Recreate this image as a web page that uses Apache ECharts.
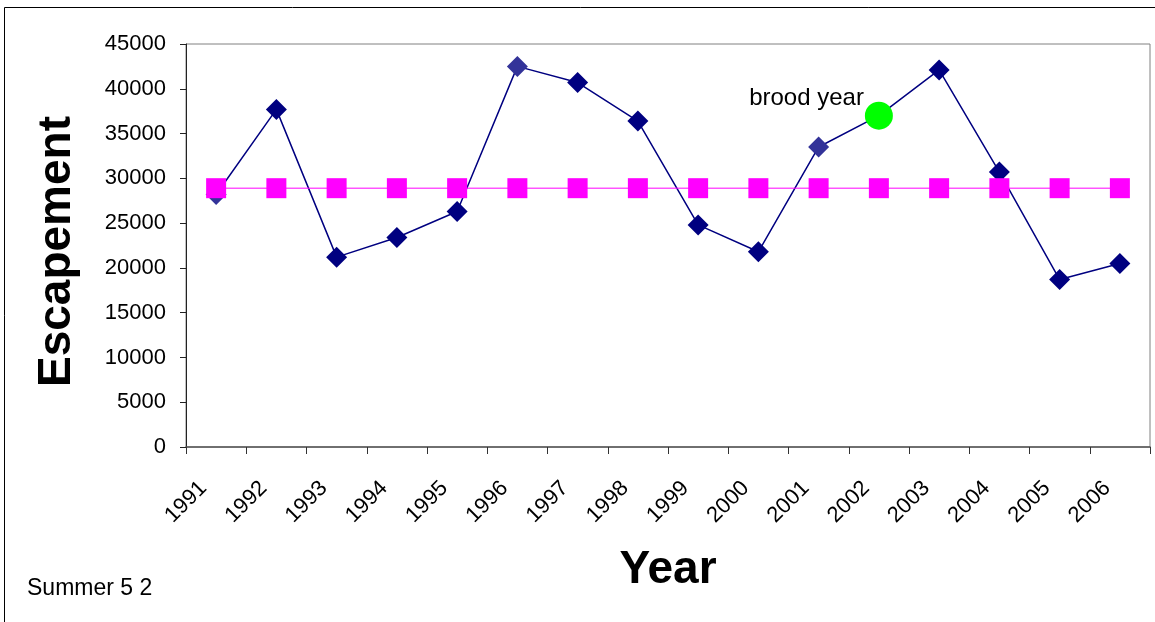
<!DOCTYPE html>
<html>
<head>
<meta charset="utf-8">
<title>Summer 5 2 escapement</title>
<script src="https://cdn.jsdelivr.net/npm/echarts@6/dist/echarts.min.js"></script>
<style>
  html, body { margin: 0; padding: 0; background: #fff; }
  #chart { width: 1155px; height: 622px; }
</style>
</head>
<body>
<div id="chart"></div>
<script>
// Escapement by year, with the reference level and the brood year marked
const years = ['1991','1992','1993','1994','1995','1996','1997','1998',
               '1999','2000','2001','2002','2003','2004','2005','2006'];
const escapement = [28200, 37700, 21200, 23400, 26300, 42500, 40700, 36400,
                    24800, 21800, 33500, 37000, 42100, 30700, 18700, 20500];
const referenceLevel = [28900, 28900, 28900, 28900, 28900, 28900, 28900, 28900,
                        28900, 28900, 28900, 28900, 28900, 28900, 28900, 28900];
const lighterMarkerYears = ['1991', '1996', '2001'];
const broodYear = '2002';
const broodLabel = 'brood year';
const yTicks = { min: 0, max: 45000, interval: 5000 };

const FONT = '"Liberation Sans", Arial, sans-serif';

const escapementData = years.map((y, i) => {
  if (y === broodYear) {
    return {
      value: escapement[i],
      symbol: 'circle',
      symbolSize: 28,
      itemStyle: { color: '#00ff00' },
      label: {
        show: true,
        formatter: broodLabel,
        position: 'left',
        distance: 1,
        offset: [0, -17],
        color: '#000',
        fontFamily: FONT,
        fontSize: 24
      }
    };
  }
  if (lighterMarkerYears.includes(y)) {
    return { value: escapement[i], itemStyle: { color: '#333399' } };
  }
  return escapement[i];
});

const chart = echarts.init(document.getElementById('chart'));
chart.setOption({
  animation: false,
  backgroundColor: '#fff',
  grid: {
    left: 186, right: 5, top: 44, bottom: 175,
    show: true, borderColor: '#808080', borderWidth: 1
  },
  graphic: [
    {
      type: 'rect',
      shape: { x: 4.5, y: 7.5, width: 1200, height: 700 },
      style: { fill: 'none', stroke: '#000', lineWidth: 1 },
      silent: true
    },
    {
      type: 'text',
      left: 27, top: 577,
      style: { text: 'Summer 5 2', fill: '#000', font: '23px ' + FONT }
    }
  ],
  xAxis: {
    type: 'category',
    data: years,
    boundaryGap: true,
    name: 'Year',
    nameLocation: 'middle',
    nameGap: 100,
    nameTextStyle: { fontFamily: FONT, fontSize: 46, fontWeight: 'bold', color: '#000' },
    axisLine: { lineStyle: { color: '#555', width: 1.5 } },
    axisTick: { show: true, length: 7, lineStyle: { color: '#333' } },
    axisLabel: {
      rotate: 45, margin: 25, padding: [0, 18, 0, 0], color: '#000',
      fontFamily: FONT, fontSize: 22, interval: 0
    },
    splitLine: { show: false }
  },
  yAxis: {
    type: 'value',
    min: yTicks.min, max: yTicks.max, interval: yTicks.interval,
    name: 'Escapement',
    nameLocation: 'middle',
    nameGap: 106,
    nameTextStyle: {
      fontFamily: FONT, fontSize: 46, fontWeight: 'bold', color: '#000',
      padding: [0, 12, 0, 0]
    },
    axisLine: { show: true, lineStyle: { color: '#222', width: 1 } },
    axisTick: { show: true, length: 6, lineStyle: { color: '#222' } },
    axisLabel: {
      margin: 20, color: '#000', fontFamily: FONT, fontSize: 22,
      formatter: v => String(v)
    },
    splitLine: { show: false }
  },
  series: [
    {
      name: 'Escapement',
      type: 'line',
      data: escapementData,
      symbol: 'diamond',
      symbolSize: 21,
      showAllSymbol: true,
      lineStyle: { color: '#000080', width: 1.5 },
      itemStyle: { color: '#000080' },
      z: 2
    },
    {
      name: 'Reference',
      type: 'line',
      data: referenceLevel,
      symbol: 'rect',
      symbolSize: 20,
      showAllSymbol: true,
      lineStyle: { color: '#ff00ff', width: 1 },
      itemStyle: { color: '#ff00ff' },
      z: 3
    }
  ]
});
</script>
</body>
</html>
